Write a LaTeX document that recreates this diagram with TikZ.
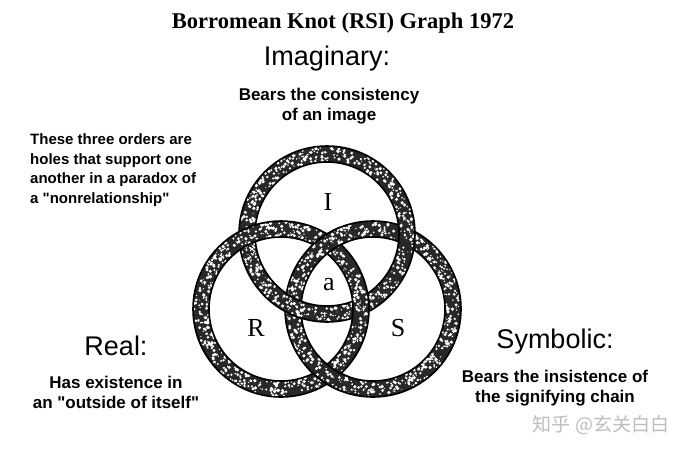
\documentclass[tikz,border=0pt]{standalone}
\usepackage{fontspec}
\setmainfont{Liberation Serif}
\setsansfont{Liberation Sans}
\newfontfamily\cjkfont{Noto Sans CJK SC}
\usepackage{tikz}
\usetikzlibrary{positioning}
\definecolor{ringdark}{RGB}{40,40,40}
\definecolor{markgrey}{RGB}{190,190,190}
\tikzset{
  band/.style={fill=ringdark, even odd rule},
  edge/.style={draw=black, line width=1.6pt},
  speck/.style={fill=white},
  head/.style={font=\sffamily\fontsize{27}{30}\selectfont, inner sep=0pt},
  body/.style={font=\sffamily\bfseries\fontsize{17}{20}\selectfont, inner sep=0pt, align=center},
  letter/.style={font=\fontsize{26}{28}\selectfont, inner sep=0pt}
}
% ring at centre #1, speckled with seed #2
\newcommand{\ringat}[2]{%
  \path[band] (#1) circle[radius=88] (#1) circle[radius=72];
  \pgfmathsetseed{#2}
  \foreach \k in {1,...,600}{
    \pgfmathsetmacro{\ang}{rnd*360}
    \pgfmathsetmacro{\rad}{73+rnd*14}
    \pgfmathsetmacro{\dot}{0.5+rnd*1.3}
    \fill[speck, shift={(#1)}] (\ang:\rad) circle[radius=\dot];
  }
  \path[edge] (#1) circle[radius=88] (#1) circle[radius=72];
}

\begin{document}
\begin{tikzpicture}[x=1pt, y=-1pt]
  \useasboundingbox[fill=white] (0,0) rectangle (695,451);

  % ═══════════════════════════════════════════════════════════════
  % TITLE
  % ═══════════════════════════════════════════════════════════════
  \node[font=\bfseries\fontsize{22.5}{26}\selectfont, inner sep=0pt, anchor=base] (title) at (343,28) {Borromean Knot (RSI) Graph 1972};

  % ═══════════════════════════════════════════════════════════════
  % THE THREE RINGS (S under I, I under R, R under S)
  % ═══════════════════════════════════════════════════════════════
  \coordinate (cI) at (327,234);
  \coordinate (cR) at (281,309);
  \coordinate (cS) at (373,309);
  \ringat{cS}{17}
  \ringat{cI}{29}
  \ringat{cR}{43}
  % S back on top of R at their two crossings
  \begin{scope}
    \clip (327,244) circle[radius=22] (327,374) circle[radius=22];
    \ringat{cS}{17}
  \end{scope}

  \node[letter] (lI) at (328,202) {I};
  \node[letter] (la) at (329,285) {a};
  \node[letter] (lR) at (256,328) {R};
  \node[letter] (lS) at (398,328) {S};

  % ═══════════════════════════════════════════════════════════════
  % CAPTIONS (base anchor = last line)
  % ═══════════════════════════════════════════════════════════════
  \node[head, anchor=base] (imag) at (327,65) {Imaginary:};
  \node[body, anchor=base] (imagtxt) at (329,120) {Bears the consistency\\of an image};

  \node[body, font=\sffamily\bfseries\fontsize{15}{19.5}\selectfont, align=left, anchor=base west] (note) at (30,203)
    {These three orders are\\holes that support one\\another in a paradox of\\a \textquotedbl nonrelationship\textquotedbl};

  \node[head, anchor=base] (real) at (116,355) {Real:};
  \node[body, anchor=base] (realtxt) at (116,408) {Has existence in\\an \textquotedbl outside of itself\textquotedbl};

  \node[head, anchor=base] (symb) at (555,348) {Symbolic:};
  \node[body, anchor=base] (symbtxt) at (555,402) {Bears the insistence of\\the signifying chain};

  \node[font=\cjkfont\fontsize{19}{20}\selectfont, text=markgrey, inner sep=0pt] (mark) at (601,425) {知乎 @玄关白白};
\end{tikzpicture}
\end{document}
